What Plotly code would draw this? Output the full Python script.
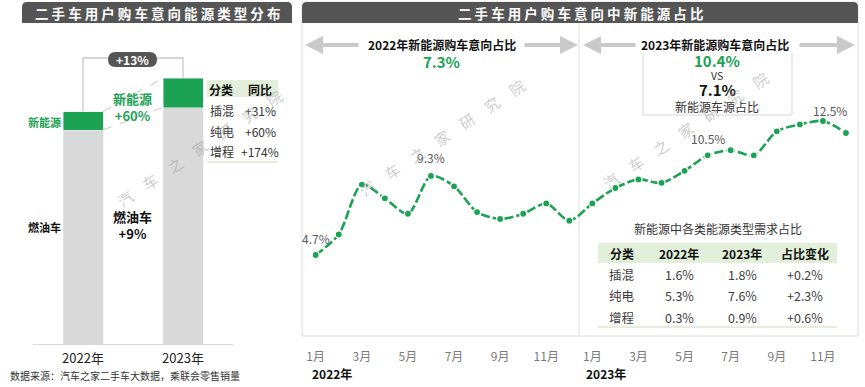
import plotly.graph_objects as go

W, H = 865, 387
FONT = "Noto Sans CJK SC"
GREEN = "#1ba253"
GRAY_BAR = "#d9d9d9"
DARK = "#555555"

# ---------------- data ----------------
bar_years = ["2022年", "2023年"]
fuel_values = [100, 110.5]          # 燃油车 (relative index)
nev_values = [8.6, 13.8]            # 新能源
fuel_label = "燃油车<br>+9%"
nev_label = "新能源<br>+60%"
total_label = "+13%"

left_table_head = ["分类", "同比"]
left_table_rows = [["插混", "+31%"], ["纯电", "+60%"], ["增程", "+174%"]]

month_ticks = ["1月", "3月", "5月", "7月", "9月", "11月"] * 2
share_2022 = [4.7, 5.9, 8.8, 8.0, 7.1, 9.3, 8.7, 7.2, 6.8, 7.1, 7.7, 6.7]
share_2023 = [7.7, 8.6, 9.1, 8.9, 9.6, 10.5, 10.8, 10.5, 11.9, 12.3, 12.5, 11.8]
labeled_points = [0, 5, 17, 22]     # indices that carry a value label
label_offsets = {0: (0, 17), 5: (0, 18), 17: (0, 17), 22: (7, 11)}

avg_2022 = "7.3%"
avg_2023 = "10.4%"
supply_2023 = "7.1%"

right_table_head = ["分类", "2022年", "2023年", "占比变化"]
right_table_rows = [
    ["插混", "1.6%", "1.8%", "+0.2%"],
    ["纯电", "5.3%", "7.6%", "+2.3%"],
    ["增程", "0.3%", "0.9%", "+0.6%"],
]

# ---------------- helpers ----------------
def px(x):
    return x / W


def py(y):
    return 1 - y / H


annotations = []
shapes = []


def text(x, y, s, size=12, color="#333333", bold=False, xanchor="center", angle=0, bg=None):
    if bold:
        s = "<b>" + s + "</b>"
    a = dict(x=px(x), y=py(y), xref="paper", yref="paper", text=s, showarrow=False,
             xanchor=xanchor, yanchor="middle", textangle=angle,
             font=dict(family=FONT, size=size, color=color))
    if bg:
        a["bgcolor"] = bg
    annotations.append(a)


def line(x0, y0, x1, y1, color="#d9d9d9", width=1, dash="solid", layer="above"):
    shapes.append(dict(type="line", xref="paper", yref="paper", x0=px(x0), y0=py(y0),
                       x1=px(x1), y1=py(y1), line=dict(color=color, width=width, dash=dash),
                       layer=layer))


def rect(x0, y0, x1, y1, fill, lc=None, lw=0, layer="below"):
    shapes.append(dict(type="rect", xref="paper", yref="paper", x0=px(x0), y0=py(y0),
                       x1=px(x1), y1=py(y1), fillcolor=fill,
                       line=dict(color=lc or fill, width=lw), layer=layer))


def path(points_px, color, width=1, fill=None, closed=False, layer="above"):
    d = "M " + " L ".join(f"{px(x)},{py(y)}" for x, y in points_px)
    if closed:
        d += " Z"
    s = dict(type="path", xref="paper", yref="paper", path=d,
             line=dict(color=color, width=width), layer=layer)
    if fill:
        s["fillcolor"] = fill
    shapes.append(s)


def rounded_top(x0, y0, x1, y1, r, fill):
    d = (f"M {px(x0)},{py(y1)} L {px(x0)},{py(y0 + r)} "
         f"Q {px(x0)},{py(y0)} {px(x0 + r)},{py(y0)} L {px(x1 - r)},{py(y0)} "
         f"Q {px(x1)},{py(y0)} {px(x1)},{py(y0 + r)} L {px(x1)},{py(y1)} Z")
    shapes.append(dict(type="path", xref="paper", yref="paper", path=d,
                       fillcolor=fill, line=dict(color=fill, width=0), layer="below"))


def pill(x0, y0, x1, y1, fill):
    r = (y1 - y0) / 2
    d = (f"M {px(x0 + r)},{py(y0)} L {px(x1 - r)},{py(y0)} "
         f"Q {px(x1)},{py(y0)} {px(x1)},{py(y0 + r)} Q {px(x1)},{py(y1)} {px(x1 - r)},{py(y1)} "
         f"L {px(x0 + r)},{py(y1)} Q {px(x0)},{py(y1)} {px(x0)},{py(y0 + r)} "
         f"Q {px(x0)},{py(y0)} {px(x0 + r)},{py(y0)} Z")
    shapes.append(dict(type="path", xref="paper", yref="paper", path=d,
                       fillcolor=fill, line=dict(color=fill, width=0), layer="above"))


def arrow(xh, yh, xt, yt):
    annotations.append(dict(x=px(xh), y=py(yh), xref="paper", yref="paper", text="",
                            showarrow=True, ax=xt - xh, ay=yt - yh, arrowhead=2,
                            arrowsize=0.9, arrowwidth=4, arrowcolor="#c9c9c9", standoff=0))


def spaced(s):
    return " ".join(list(s))


fig = go.Figure()

# ---------------- left panel: stacked bars ----------------
fig.add_trace(go.Bar(x=bar_years, y=fuel_values, marker_color=GRAY_BAR, width=0.4,
                     xaxis="x", yaxis="y", hoverinfo="skip", showlegend=False))
fig.add_trace(go.Bar(x=bar_years, y=nev_values, marker_color=GREEN, width=0.4,
                     xaxis="x", yaxis="y", hoverinfo="skip", showlegend=False))

# connectors between bars (data-driven, in bar axis coordinates)
tops = [f + n for f, n in zip(fuel_values, nev_values)]
for a, b in [(tops[0], tops[1]), (fuel_values[0], fuel_values[1])]:
    shapes.append(dict(type="line", xref="x", yref="y", x0=0.2, y0=a, x1=0.8, y1=b,
                       line=dict(color="#c8c8c8", width=1, dash="dash"), layer="above"))
bracket_top_px = 58
y_bracket = (344 - bracket_top_px) / 2.14
shapes.append(dict(type="path", xref="x", yref="y",
                   path=f"M 0,{tops[0]} L 0,{y_bracket} L 1,{y_bracket} L 1,{tops[1]}",
                   line=dict(color="#c8c8c8", width=1.3), layer="below"))
pill(108, 52, 157, 67, DARK)
text(132.5, 59.5, total_label, size=12, color="white", bold=True)

text(44, 122, "新能源", size=11, color=GREEN, bold=True)
text(44, 227, "燃油车", size=11, color="#111111", bold=True)
text(132, 107, nev_label, size=13, color=GREEN, bold=True)
text(132, 225, fuel_label, size=13, color="#111111", bold=True)

# left small table
rect(207, 80, 278, 97, "#e2efda")
text(221, 89, left_table_head[0], size=12, color="#111111", bold=True)
text(260, 89, left_table_head[1], size=12, color="#111111", bold=True)
for i, (k, v) in enumerate(left_table_rows):
    yy = 110 + i * 21
    text(222, yy, k, size=12, color="#333333")
    text(260, yy, v, size=12, color="#333333")
line(207, 162, 278, 162, color="#c5e0b4", width=1)

# left header
rounded_top(22, 2, 292, 23, 5, DARK)
text(157, 13, spaced("二手车用户购车意向能源类型分布"), size=13.5, color="white", bold=True)
text(8, 375, "数据来源：汽车之家二手车大数据，乘联会零售销量", size=10, color="#333333", xanchor="left")

# ---------------- right panel ----------------
rect(302, 2, 858, 336, "white", lc="#dcdcdc", lw=1)
rounded_top(302, 2, 858, 23, 5, DARK)
text(580, 13, spaced("二手车用户购车意向中新能源占比"), size=13.5, color="white", bold=True)
line(579, 23, 579, 336, color="#dedede", width=1, layer="below")

share = share_2022 + share_2023
xs = list(range(len(share)))
fig.add_trace(go.Scatter(x=xs, y=share, xaxis="x2", yaxis="y2", mode="lines+markers",
                         line=dict(color=GREEN, width=2.6, shape="spline", smoothing=0.8,
                                   dash="9px,3px"),
                         marker=dict(size=7, color=GREEN, line=dict(color="white", width=1.2)),
                         hoverinfo="skip", showlegend=False))
for i in labeled_points:
    dx, dy = label_offsets[i]
    annotations.append(dict(x=xs[i], y=share[i], xref="x2", yref="y2", text=f"{share[i]:.1f}%",
                            showarrow=False, xshift=dx, yshift=dy, yanchor="middle",
                            font=dict(family=FONT, size=12, color="#595959")))

# period arrows & headline numbers
arrow(305, 45, 360, 45)
arrow(578, 45, 523, 45)
text(441.7, 45, "2022年新能源购车意向占比", size=12, color="#111111", bold=True)
text(441.7, 61, avg_2022, size=15, color=GREEN, bold=True)

arrow(583, 45, 637, 45)
arrow(855, 45, 798, 45)
path([(643, 53), (643, 115), (792, 115), (792, 53)], "#d6d6d6", width=1)
text(715, 45, "2023年新能源购车意向占比", size=12, color="#111111", bold=True)
text(717, 60, avg_2023, size=15, color=GREEN, bold=True)
text(717, 75, "VS", size=10.5, color="#333333")
text(717, 90, supply_2023, size=15, color="#111111", bold=True)
text(717, 106, "新能源车源占比", size=12, color="#333333")

# right table
text(717.5, 228, "新能源中各类能源类型需求占比", size=12, color="#333333")
rect(598, 243, 837, 263, "#e2efda")
col_x = [622, 679, 742, 805]
for cx, h in zip(col_x, right_table_head):
    text(cx, 253, h, size=12, color="#111111", bold=True)
for r, row in enumerate(right_table_rows):
    yy = 274 + r * 21.5
    for cx, v in zip(col_x, row):
        text(cx, yy, v, size=12.5, color="#404040")
line(598, 327, 837, 327, color="#c5e0b4", width=1)

# year labels under month axis
text(310, 373, "2022年", size=12, color="#111111", bold=True, xanchor="left")
text(584, 373, "2023年", size=12, color="#111111", bold=True, xanchor="left")

# watermarks
wm = "\u2003".join(list("汽车之家研究院"))
for cx, cy in [(199, 148), (442, 137), (685, 130)]:
    text(cx, cy, wm, size=15, color="rgba(160,160,160,0.55)", angle=-34)

# ---------------- layout ----------------
lo_px, hi_px = 344, 40
fig.update_layout(
    width=W, height=H, margin=dict(l=0, r=0, t=0, b=0),
    paper_bgcolor="white", plot_bgcolor="rgba(0,0,0,0)",
    barmode="stack", bargap=0.6,
    font=dict(family=FONT),
    xaxis=dict(domain=[px(33), px(233)], range=[-0.5, 1.5], type="category",
               showline=True, linecolor="#d9d9d9", linewidth=1, showgrid=False,
               ticks="", tickfont=dict(size=13, color="#222222", family=FONT),
               ticklabelstandoff=2, anchor="y", fixedrange=True),
    yaxis=dict(domain=[py(lo_px), py(hi_px)], range=[0, (lo_px - hi_px) / 2.14],
               visible=False, fixedrange=True),
    xaxis2=dict(domain=[px(304.17), px(857.5)], range=[-0.5, 23.5],
                tickvals=list(range(0, 24, 2)), ticktext=month_ticks,
                showline=False, showgrid=False, zeroline=False, ticks="",
                tickfont=dict(size=12, color="#7a7a7a", family=FONT),
                ticklabelstandoff=4, anchor="y2", fixedrange=True),
    yaxis2=dict(domain=[py(lo_px), py(hi_px)],
                range=[4.7 - (lo_px - 255) / 17.18, 4.7 + (255 - hi_px) / 17.18],
                visible=False, anchor="x2", fixedrange=True),
    shapes=shapes, annotations=annotations,
)

fig.write_html("out.html", config={"displayModeBar": False},
               post_script="document.body.style.margin='0';document.body.style.padding='0';")
